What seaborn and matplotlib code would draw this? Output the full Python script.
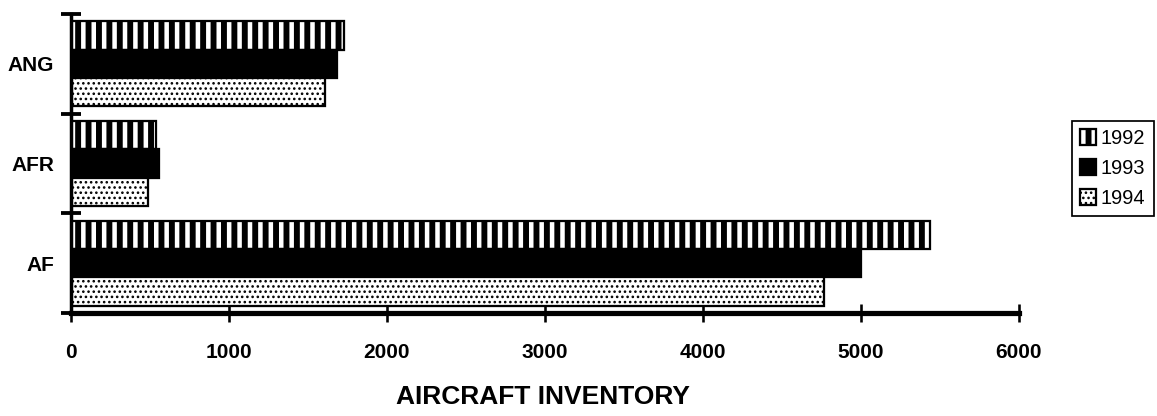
import matplotlib
matplotlib.use('Agg')
import matplotlib.pyplot as plt
import seaborn as sns
import pandas as pd

# ---- data ----
categories = ['ANG', 'AFR', 'AF']
years = ['1992', '1993', '1994']
values_1992 = [1725, 540, 5435]
values_1993 = [1685, 560, 5000]
values_1994 = [1610, 485, 4765]
x_ticks = [0, 1000, 2000, 3000, 4000, 5000, 6000]
x_title = 'AIRCRAFT INVENTORY'

rows = []
for yr, vals in zip(years, [values_1992, values_1993, values_1994]):
    for c, v in zip(categories, vals):
        rows.append({'cat': c, 'year': yr, 'value': v})
df = pd.DataFrame(rows)

sns.set_theme(style='white')
plt.rcParams['font.family'] = ['Liberation Sans', 'DejaVu Sans']
plt.rcParams['hatch.color'] = 'black'
plt.rcParams['hatch.linewidth'] = 3.4

DPI = 125
fig = plt.figure(figsize=(1157 / DPI, 416 / DPI), dpi=DPI)
ax = fig.add_axes([71 / 1157, (416 - 313) / 416, 948 / 1157, 299 / 416])

sns.barplot(data=df, y='cat', x='value', hue='year', orient='y',
            order=categories, hue_order=years,
            palette=['white', 'black', 'white'], saturation=1,
            width=0.85, errorbar=None, legend=False, ax=ax)

hatches = ['||', None, '....']
hatch_lw = [3.4, 1.0, 0.9]


def set_hlw(p, lw):
    if hasattr(p, 'set_hatch_linewidth'):
        p.set_hatch_linewidth(lw)
    else:
        p._hatch_linewidth = lw


for cont, h, hl in zip(ax.containers, hatches, hatch_lw):
    for p in cont.patches:
        p.set_edgecolor('black')
        p.set_linewidth(1.3)
        if h:
            p.set_hatch(h)
            set_hlw(p, hl)

ax.set_xlim(0, 6000)
ax.set_ylim(2.5, -0.5)
ax.set_xticks(x_ticks)
ax.set_xticklabels([str(t) for t in x_ticks], fontsize=12, fontweight='bold')
ax.set_yticks(range(len(categories)))
ax.set_yticklabels(categories, fontsize=12, fontweight='bold')
ax.set_yticks([-0.5, 0.5, 1.5, 2.5], minor=True)
ax.tick_params(axis='y', which='major', length=0, pad=9.8, colors='black')
ax.tick_params(axis='y', which='minor', direction='inout', length=11.5,
               width=2.2, color='black', left=True)
ax.tick_params(axis='x', which='major', direction='inout', length=9.8,
               width=1.5, pad=12.4, color='black', bottom=True,
               labelcolor='black')

for s in ['top', 'right']:
    ax.spines[s].set_visible(False)
ax.spines['left'].set_linewidth(2.0)
ax.spines['left'].set_color('black')
ax.spines['bottom'].set_linewidth(3.0)
ax.spines['bottom'].set_color('black')

ax.set_ylabel('')
ax.set_xlabel(x_title, fontsize=15.2, fontweight='bold', color='black')
ax.xaxis.label.set_va('center')
ax.xaxis.set_label_coords((543 - 71) / 948, (313 - 397) / 299)

handles = [c.patches[0] for c in ax.containers]
leg = ax.legend(handles, years, loc='upper left',
                bbox_to_anchor=(1072 / 1157, 1 - 121 / 416),
                bbox_transform=fig.transFigure, borderaxespad=0,
                fontsize=11.5, frameon=True, fancybox=False, shadow=False,
                handlelength=0.8, handleheight=0.8, handletextpad=0.25,
                borderpad=0.4, labelspacing=0.55)
leg.get_frame().set_edgecolor('black')
leg.get_frame().set_linewidth(1.0)
leg.get_frame().set_alpha(1)
for lp, h, hl in zip(leg.get_patches(), hatches, hatch_lw):
    lp.set_edgecolor('black')
    lp.set_linewidth(1.3)
    if h:
        lp.set_hatch(h)
        set_hlw(lp, hl)
for t in leg.get_texts():
    t.set_color('black')

fig.savefig('out.png', dpi=DPI)
